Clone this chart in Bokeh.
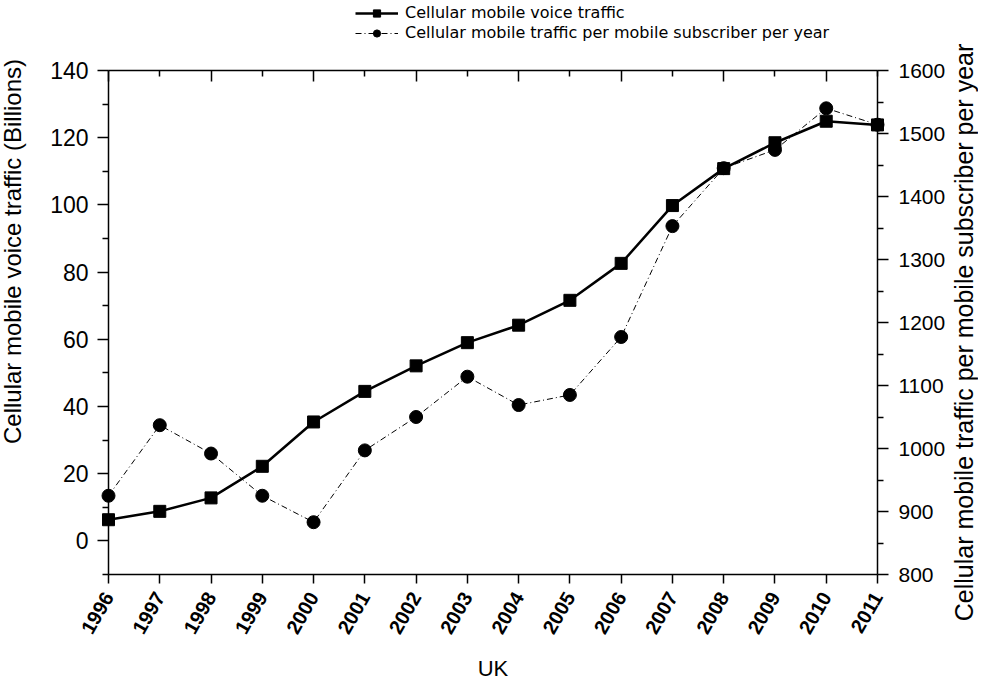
import math
from bokeh.plotting import figure
from bokeh.layouts import column
from bokeh.models import Range1d, LinearAxis, FixedTicker, Legend, LegendItem
from bokeh.core.properties import value
from bokeh.embed import file_html
from bokeh.resources import INLINE

# ---- data ----
years = [1996, 1997, 1998, 1999, 2000, 2001, 2002, 2003, 2004, 2005, 2006, 2007, 2008, 2009, 2010, 2011]
voice_traffic = [6.3, 8.8, 12.8, 22.2, 35.4, 44.5, 52.1, 59.0, 64.2, 71.6, 82.6, 99.8, 110.8, 118.5, 124.9, 123.8]
traffic_per_sub = [925, 1037, 992, 925, 883, 997, 1050, 1114, 1069, 1085, 1177, 1353, 1445, 1474, 1540, 1514]

left_major = [0, 20, 40, 60, 80, 100, 120, 140]
left_minor = [-10, 10, 30, 50, 70, 90, 110, 130]
right_major = [800, 900, 1000, 1100, 1200, 1300, 1400, 1500, 1600]
right_minor = [850, 950, 1050, 1150, 1250, 1350, 1450, 1550]
top_major = [1996, 1998, 2000, 2002, 2004, 2006, 2008, 2010]
top_minor = [1997, 1999, 2001, 2003, 2005, 2007, 2009, 2011]

label_voice = "Cellular mobile voice traffic"
label_sub = "Cellular mobile traffic per mobile subscriber per year"
left_title = "Cellular mobile voice traffic (Billions)"
right_title = "Cellular mobile traffic per mobile subscriber per year"
x_title = "UK"

FONT = "Liberation Sans"
X0, X1 = 1996, 2011
Y0, Y1 = -10, 140

W = 978
LEG_H = 42

# ---------------- legend strip (series drawn out of view, only legend shows) ----------------
lg = figure(width=W, height=LEG_H, output_backend="svg", toolbar_location=None,
            x_axis_location=None, y_axis_location=None,
            x_range=Range1d(0, 1), y_range=Range1d(0, 1),
            min_border_left=0, min_border_right=0, min_border_top=0, min_border_bottom=0)
lg.outline_line_color = None
lg.xgrid.visible = False
lg.ygrid.visible = False
lg.background_fill_color = "white"
lg.border_fill_color = "white"
gl1 = lg.line(years, voice_traffic, line_color="black", line_width=2.5)
gs1 = lg.scatter(years, voice_traffic, marker="square", size=12, fill_color="black", line_color="black")
gl2 = lg.line(years, traffic_per_sub, line_color="black", line_width=1, line_dash="6 3 1 3")
gs2 = lg.scatter(years, traffic_per_sub, marker="circle", size=13, fill_color="black", line_color="black")
legend = Legend(items=[LegendItem(label=label_voice, renderers=[gl1, gs1]),
                       LegendItem(label=label_sub, renderers=[gl2, gs2])],
                location=(247, 0), padding=0, margin=0, spacing=1,
                glyph_width=43, glyph_height=18, label_height=18, label_standoff=7,
                label_text_font="DejaVu Sans", label_text_font_size="16px",
                label_text_color="black",
                border_line_color=None, background_fill_alpha=0)
lg.add_layout(legend, "center")

# ---------------- main chart ----------------
p = figure(width=W, height=684 - LEG_H, output_backend="svg", toolbar_location=None,
           x_range=Range1d(X0, X1), y_range=Range1d(Y0, Y1),
           min_border_left=108, min_border_right=101, min_border_top=70 - LEG_H, min_border_bottom=106)
p.extra_y_ranges = {"sub": Range1d(800, 1600)}
p.outline_line_color = None
p.xgrid.visible = False
p.ygrid.visible = False
p.background_fill_color = "white"
p.border_fill_color = "white"

# bottom axis
xa = p.xaxis[0]
xa.ticker = FixedTicker(ticks=years)
xa.major_tick_out = 9
xa.major_tick_in = 0
xa.minor_tick_out = 0
xa.axis_line_width = 1.5
xa.major_tick_line_width = 1.5
xa.major_label_orientation = math.radians(60)
xa.major_label_text_font = FONT
xa.major_label_text_font_style = "bold"
xa.major_label_text_font_size = "20px"
xa.major_label_text_color = "black"
xa.major_label_standoff = 10
xa.axis_label = x_title
xa.axis_label_text_font = FONT
xa.axis_label_text_font_style = "normal"
xa.axis_label_text_font_size = "22px"
xa.axis_label_text_color = "black"
xa.axis_label_standoff = 14

# left axis
ya = p.yaxis[0]
ya.ticker = FixedTicker(ticks=left_major, minor_ticks=left_minor)
ya.major_tick_out = 11
ya.major_tick_in = 0
ya.minor_tick_out = 6
ya.minor_tick_in = 0
ya.axis_line_width = 1.5
ya.major_tick_line_width = 1.5
ya.minor_tick_line_width = 1.5
ya.major_label_text_font = FONT
ya.major_label_text_font_size = "23px"
ya.major_label_text_color = "black"
ya.major_label_standoff = 9

# right axis
ra = LinearAxis(y_range_name="sub", ticker=FixedTicker(ticks=right_major, minor_ticks=right_minor))
ra.major_tick_out = 11
ra.major_tick_in = 0
ra.minor_tick_out = 6
ra.minor_tick_in = 0
ra.axis_line_width = 1.5
ra.major_tick_line_width = 1.5
ra.minor_tick_line_width = 1.5
ra.major_label_text_font = FONT
ra.major_label_text_font_size = "21px"
ra.major_label_text_color = "black"
ra.major_label_standoff = 10
p.add_layout(ra, "right")

# top axis (ticks only)
ta = LinearAxis(ticker=FixedTicker(ticks=top_major, minor_ticks=top_minor))
ta.major_tick_in = 11
ta.major_tick_out = 0
ta.minor_tick_in = 6
ta.minor_tick_out = 0
ta.axis_line_width = 1.5
ta.major_tick_line_width = 1.5
ta.minor_tick_line_width = 1.5
ta.major_label_standoff = 0
ta.major_label_text_font_size = "0px"
ta.major_label_text_alpha = 0
p.add_layout(ta, "above")

# axis titles drawn as text anchored at the frame corners
p.text(x=[X0], y=[Y0], text=[left_title], angle=math.pi / 2, x_offset=-96, y_offset=-323,
       text_align="center", text_baseline="middle", text_font=value(FONT),
       text_font_size=value("24px"), text_color="black", level="overlay")
p.text(x=[X1], y=[Y0], text=[right_title], angle=math.pi / 2, x_offset=86, y_offset=-242,
       text_align="center", text_baseline="middle", text_font=value(FONT),
       text_font_size=value("25px"), text_color="black", level="overlay")

# series
p.line(years, voice_traffic, line_color="black", line_width=2.5)
p.scatter(years, voice_traffic, marker="square", size=12, fill_color="black", line_color="black", level="overlay")
p.line(years, traffic_per_sub, y_range_name="sub", line_color="black", line_width=1, line_dash="6 3 1 3")
p.scatter(years, traffic_per_sub, y_range_name="sub", marker="circle", size=13,
          fill_color="black", line_color="black", level="overlay")

layout = column(lg, p, spacing=0)
open("out.html", "w").write(file_html(layout, INLINE))
